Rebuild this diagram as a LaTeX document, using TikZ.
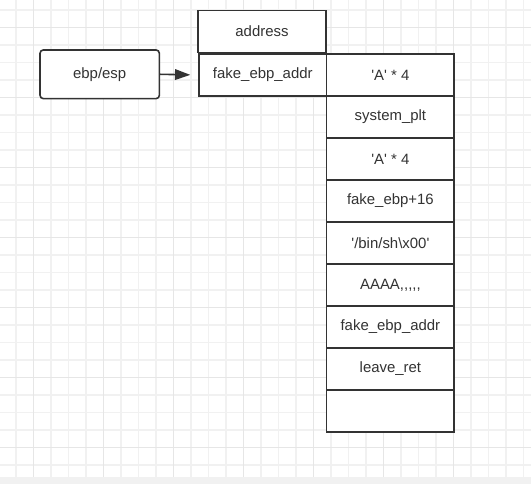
\documentclass[tikz,border=0pt]{standalone}
\usepackage{fontspec}
\setmainfont{Liberation Sans}[Ligatures=TeXOff]
\usetikzlibrary{arrows.meta}
\definecolor{gridminor}{HTML}{F1F1F1}
\definecolor{gridmajor}{HTML}{E6E6E6}
\definecolor{band}{HTML}{F1F1F1}
\definecolor{ink}{HTML}{333333}
\tikzset{
  cell/.style={draw=ink, line width=1.2pt, fill=white, rectangle, inner sep=0pt,
    minimum width=95.6pt, minimum height=31.5pt, text=ink,
    font=\fontsize{11.2pt}{13pt}\selectfont},
  roundbox/.style={cell, rounded corners=2.5pt, minimum width=89.5pt, minimum height=36.5pt},
  conn/.style={draw=ink, line width=1.2pt, -{Triangle[length=11.5pt,width=8pt]}},
}
\begin{document}
\begin{tikzpicture}[x=0.75pt,y=-0.75pt]
\useasboundingbox (0,0) rectangle (531,484);
\fill[white] (0,0) rectangle (531,484);
% grid
\foreach \k in {0,...,29} {
  \draw[gridminor, line width=0.8pt] ({16+17.5*\k},0) -- ({16+17.5*\k},477);
}
\foreach \k in {0,...,26} {
  \draw[gridminor, line width=0.8pt] (0,{10+17.5*\k}) -- (531,{10+17.5*\k});
}
\foreach \k in {0,...,6} {
  \draw[gridmajor, line width=1pt] ({33.5+70*\k},0) -- ({33.5+70*\k},477);
  \draw[gridmajor, line width=1pt] (0,{27.5+70*\k}) -- (531,{27.5+70*\k});
}
\fill[band] (0,477) rectangle (531,484);
% nodes
\node[roundbox] (ebp) at (99.7,74.3) {ebp/esp};
\node[cell] (address) at (262,31.5) {address};
\node[cell] (fake) at (262.8,75) {fake\_ebp\_addr};
\node[cell] (r1) at (390.4,75) {'A' * 4};
\node[cell] (r2) at (390.4,117) {system\_plt};
\node[cell] (r3) at (390.4,159) {'A' * 4};
\node[cell] (r4) at (390.4,201) {fake\_ebp+16};
\node[cell] (r5) at (390.4,243) {'/bin/sh\textbackslash x00'};
\node[cell] (r6) at (390.4,285) {AAAA,,,,,};
\node[cell] (r7) at (390.4,327) {fake\_ebp\_addr};
\node[cell] (r8) at (390.4,369) {leave\_ret};
\node[cell] (r9) at (390.4,411) {};
% connector
\draw[conn, shorten >=6pt] (ebp.east) -- (fake.west);
\end{tikzpicture}
\end{document}
